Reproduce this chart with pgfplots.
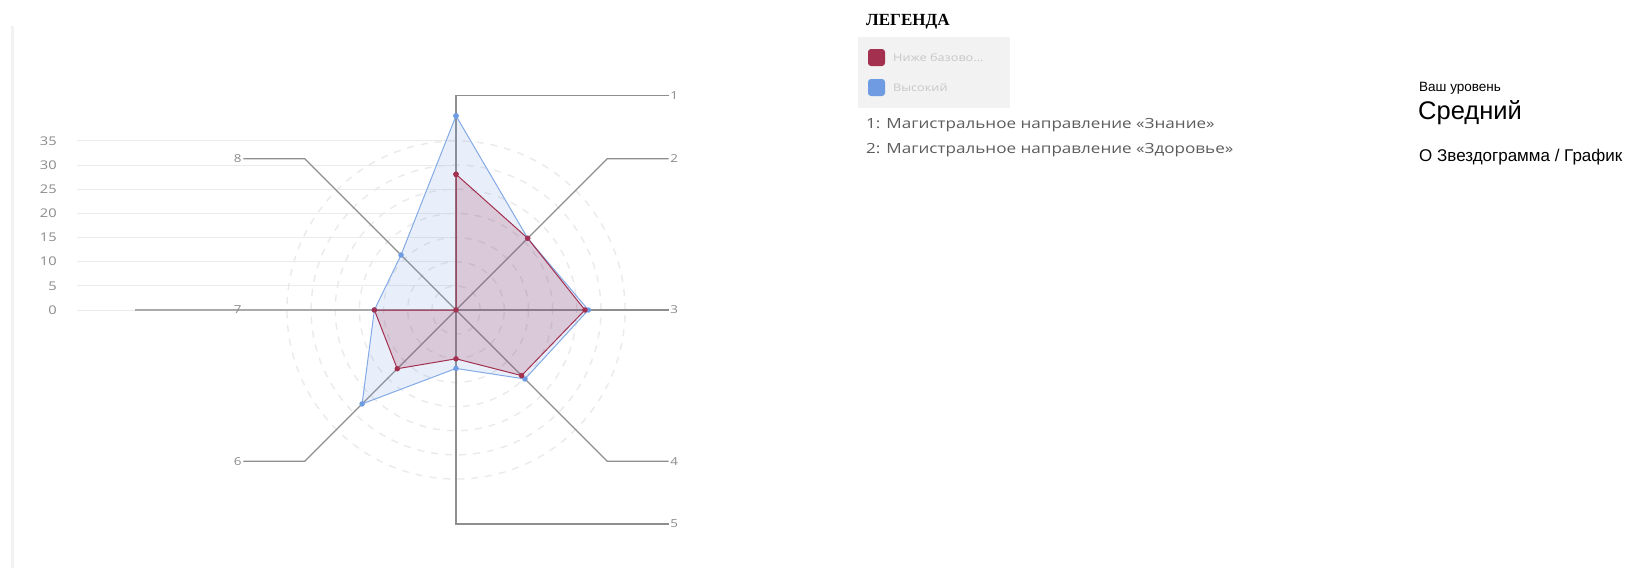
\documentclass[border=0pt]{standalone}
\usepackage{pgfplots}
\pgfplotsset{compat=1.18}
\usepackage{fontspec}
\setmainfont[FakeStretch=1.22]{Open Sans}
\newfontfamily\arial{Liberation Sans}
\newfontfamily\tnr{Liberation Serif}

\definecolor{redc}{HTML}{A3304F}
\definecolor{bluec}{HTML}{6E9BE2}
\definecolor{spokec}{HTML}{8E8E8E}
\definecolor{gridc}{HTML}{EBEBEB}
\definecolor{ringc}{HTML}{EAEAEA}
\definecolor{tickc}{HTML}{8A8A8A}

% radar values, axes 1..8 (angle, radius)
\pgfplotstableread{
ang r
90   28.1
45   21.0
0    26.7
-45  19.2
-90  10.1
-135 17.2
180  16.9
135  0
90   28.1
}\lowdata
\pgfplotstableread{
ang r
90   40.2
45   21.0
0    27.4
-45  20.2
-90  12.1
-135 27.5
180  16.9
135  16.1
90   40.2
}\highdata

\begin{document}
\begin{tikzpicture}
\useasboundingbox (0pt,0pt) rectangle (1631pt,-568pt);
\fill[black!5] (10.5pt,-26pt) rectangle (14pt,-568pt);

\begin{axis}[
  anchor=origin, at={(456pt,-310pt)},
  x=4.83pt, y=4.83pt,
  xmin=-78.5, xmax=48, ymin=-47, ymax=47,
  axis line style={draw=none},
  major tick length=0pt,
  xtick=\empty,
  ytick={0,5,...,35},
  yticklabel style={font=\fontsize{12}{13}\selectfont, text=tickc, anchor=east, inner sep=0pt, xshift=-20pt},
  /pgf/number format/assume math mode=true,
  clip=false,
]
% horizontal grid
\pgfplotsinvokeforeach{0,5,...,35}{
  \addplot[gridc, line width=1pt, forget plot] coordinates {(-78.5,#1)(0,#1)};
}
% dashed rings
\pgfplotsinvokeforeach{5,10,...,35}{
  \draw[ringc, line width=1.4pt, dash pattern=on 7pt off 7pt] (axis cs:0,0) circle[radius=#1];
}
% spokes with leaders
\addplot[spokec, line width=1.2pt] coordinates {(0,0)(0,44.4)(44.0,44.4)};
\addplot[spokec, line width=1.2pt] coordinates {(0,0)(31.3,31.3)(44.0,31.3)};
\addplot[spokec, line width=1.2pt] coordinates {(0,0)(44.0,0)};
\addplot[spokec, line width=1.2pt] coordinates {(0,0)(31.3,-31.3)(44.0,-31.3)};
\addplot[spokec, line width=1.2pt] coordinates {(0,0)(0,-44.3)(44.0,-44.3)};
\addplot[spokec, line width=1.2pt] coordinates {(0,0)(-31.3,-31.3)(-44.0,-31.3)};
\addplot[spokec!75, line width=1.5pt] coordinates {(0,0)(-66.5,0)};
\addplot[spokec, line width=1.2pt] coordinates {(0,0)(-31.3,31.3)(-44.0,31.3)};

\begin{scope}[font=\fontsize{11}{12}\selectfont, text=tickc, inner sep=0pt]
\node at (axis cs:45.2,44.4) {1};
\node at (axis cs:45.2,31.3) {2};
\node at (axis cs:45.2,0) {3};
\node at (axis cs:45.2,-31.3) {4};
\node at (axis cs:45.2,-44.3) {5};
\node at (axis cs:-45.2,-31.3) {6};
\node at (axis cs:-45.2,0) {7};
\node at (axis cs:-45.2,31.3) {8};
\end{scope}

% series
\addplot[data cs=polar, draw=bluec!85, line width=1pt, fill=bluec, fill opacity=0.16,
  mark=*, mark size=2.2pt, mark options={fill=bluec, draw=bluec, fill opacity=1}]
  table[x=ang, y=r] {\highdata};
\addplot[data cs=polar, draw=redc, line width=1pt, fill=redc, fill opacity=0.2,
  mark=*, mark size=2.2pt, mark options={fill=redc, draw=redc, fill opacity=1}]
  table[x=ang, y=r] {\lowdata};
\end{axis}

% legend
\node[anchor=west, inner sep=0pt, font=\tnr\bfseries\fontsize{17}{18}\selectfont] at (866pt,-22pt) {ЛЕГЕНДА};
\fill[black!5] (858pt,-37pt) rectangle (1010pt,-108pt);
\fill[redc, rounded corners=3pt] (868pt,-49pt) rectangle (885pt,-66pt);
\fill[bluec, rounded corners=3pt] (868pt,-79pt) rectangle (885pt,-96pt);
\node[anchor=west, inner sep=0pt, text=black!22, font=\fontsize{10.4}{11}\selectfont] at (893pt,-57.5pt) {Ниже базово...};
\node[anchor=west, inner sep=0pt, text=black!22, font=\fontsize{10.4}{11}\selectfont] at (893pt,-87.5pt) {Высокий};
\node[anchor=west, inner sep=0pt, text=black!64, font=\fontsize{14}{15}\selectfont] at (866pt,-125pt) {1: Магистральное направление «Знание»};
\node[anchor=west, inner sep=0pt, text=black!64, font=\fontsize{14}{15}\selectfont] at (866pt,-150pt) {2: Магистральное направление «Здоровье»};

% level block
\node[anchor=west, inner sep=0pt, font=\arial\fontsize{13.5}{15}\selectfont] at (1419pt,-88pt) {Ваш уровень};
\node[anchor=west, inner sep=0pt, font=\arial\fontsize{25.5}{28}\selectfont] at (1418pt,-113pt) {Средний};
\node[anchor=west, inner sep=0pt, font=\arial\fontsize{17}{19}\selectfont] at (1419pt,-157pt) {О Звездограмма / График};
\end{tikzpicture}
\end{document}
